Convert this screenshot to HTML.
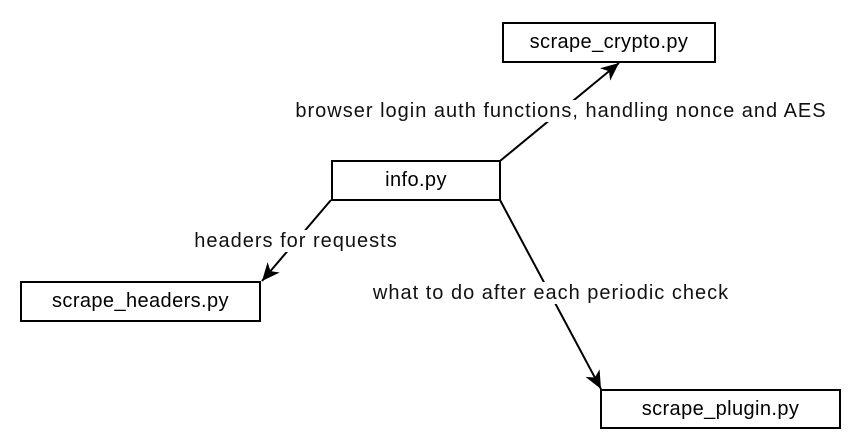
<!DOCTYPE html>
<html><head><style>
html,body{margin:0;padding:0;background:#fff;}
body{width:862px;height:444px;position:relative;overflow:hidden;font-family:"Liberation Sans",Arial,sans-serif;}
.b{position:absolute;border:2px solid #000;box-sizing:border-box;background:#fff;display:flex;align-items:center;justify-content:center;font-size:20px;color:#000;letter-spacing:0.4px;}
.l{position:absolute;background:#fff;font-size:20px;letter-spacing:1px;color:#111;white-space:nowrap;transform:translate(-50%,-50%);line-height:22px;padding:0 1px;}
svg{position:absolute;left:0;top:0;}
</style></head><body>
<svg width="862" height="444">
<defs><marker id="a" markerWidth="20" markerHeight="16" refX="18" refY="8" orient="auto" markerUnits="userSpaceOnUse" viewBox="0 0 20 16"><path d="M0,0 L18,8 L0,16 L5,8 z" fill="#000"/></marker></defs>
<g stroke="#000" stroke-width="2" fill="none">
<line x1="500" y1="161" x2="619" y2="63" marker-end="url(#a)"/>
<line x1="331" y1="200" x2="262" y2="281" marker-end="url(#a)"/>
<line x1="500" y1="200" x2="601" y2="389" marker-end="url(#a)"/>
</g>
</svg>
<div class="b" style="left:502px;top:22px;width:214px;height:41px;">scrape_crypto.py</div>
<div class="b" style="left:331px;top:160px;width:170px;height:41px;">info.py</div>
<div class="b" style="left:20px;top:281px;width:241px;height:41px;">scrape_headers.py</div>
<div class="b" style="left:600px;top:389px;width:241px;height:40px;">scrape_plugin.py</div>
<div class="l" style="left:561px;top:111px;">browser login auth functions, handling nonce and AES</div>
<div class="l" style="left:296px;top:241px;">headers for requests</div>
<div class="l" style="left:551px;top:293px;">what to do after each periodic check</div>
</body></html>
